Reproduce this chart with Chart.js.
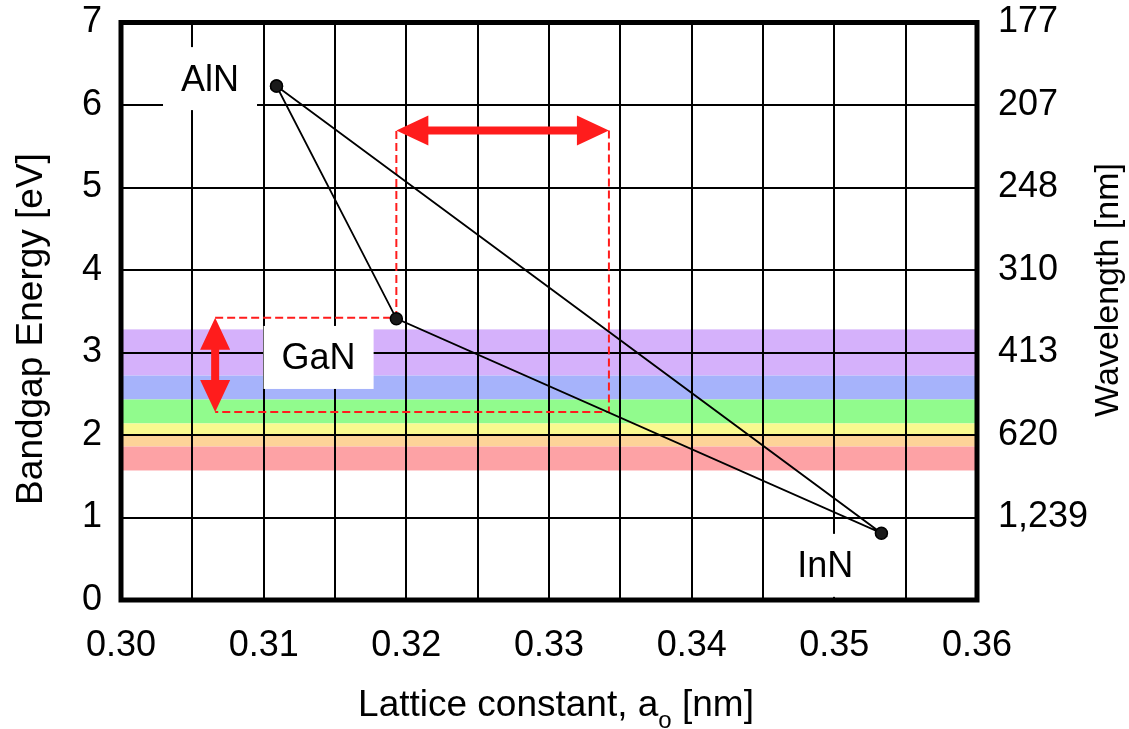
<!DOCTYPE html>
<html>
<head>
<meta charset="utf-8">
<script src="https://cdn.jsdelivr.net/npm/chart.js@4.4.1/dist/chart.umd.min.js"></script>
<style>
  html, body { margin: 0; padding: 0; background: #fff; }
  #wrap { width: 1129px; height: 729px; }
</style>
</head>
<body>
<div id="wrap"><canvas id="c" width="1129" height="729"></canvas></div>
<script>
// Binary nitrides: lattice constant a0 [nm] vs bandgap [eV]
const compounds  = ['AlN', 'GaN', 'InN'];
const latticeNm  = [0.3109, 0.3193, 0.3533];
const bandgapEv  = [6.23, 3.41, 0.81];

// Axis tick labels
const latticeTickLabels = ['0.30', '0.31', '0.32', '0.33', '0.34', '0.35', '0.36'];
const energyTickLabels  = ['0', '1', '2', '3', '4', '5', '6', '7'];
const wavelengthLabels  = ['', '1,239', '620', '413', '310', '248', '207', '177'];

// Visible spectrum bands (upper / lower photon energy, eV)
const bandTopEv    = [3.28, 2.72, 2.43, 2.14, 2.00, 1.86];
const bandBottomEv = [2.72, 2.43, 2.14, 2.00, 1.86, 1.57];
const bandColors   = ['#D5B1FB', '#A6B3FB', '#91FB8D', '#F9F98F', '#FDD398', '#FDA2A5'];

// Red dashed guide path (null = break)
const guideLattice = [0.3066, 0.3193, 0.3193, 0.3193, 0.3342, 0.3342, 0.3066];
const guideEnergy  = [3.42, 3.42, 5.69, null, 5.69, 2.28, 2.28];

// Double-headed arrows: start / end in data units
const arrowStartLattice = [0.3193, 0.3066];
const arrowStartEnergy  = [5.69, 3.42];
const arrowEndLattice   = [0.3342, 0.3066];
const arrowEndEnergy    = [5.69, 2.28];

// Compound name tags
const tagLattice = [0.30624, 0.31385, 0.34937];
const tagEnergy  = [6.32, 2.94, 0.42];

const FONT = "'Liberation Sans', Arial, sans-serif";
const RED = '#FF1C1C';

const trianglePts = [0, 1, 2, 0].map(i => ({ x: latticeNm[i], y: bandgapEv[i] }));
const guidePts = guideLattice.map((x, i) => ({ x: x, y: guideEnergy[i] }));

const bandsPlugin = {
  id: 'bands',
  beforeDraw(chart) {
    const { ctx, chartArea: a, scales } = chart;
    ctx.save();
    ctx.fillStyle = '#fff';
    ctx.fillRect(0, 0, chart.width, chart.height);
    bandTopEv.forEach((top, i) => {
      const y1 = scales.y.getPixelForValue(top);
      const y2 = scales.y.getPixelForValue(bandBottomEv[i]);
      ctx.fillStyle = bandColors[i];
      ctx.fillRect(a.left, y1, a.right - a.left, y2 - y1);
    });
    ctx.restore();
  }
};

const tagsPlugin = {
  id: 'tags',
  beforeDatasetsDraw(chart) {
    const { ctx, scales } = chart;
    ctx.save();
    ctx.font = '36px ' + FONT;
    ctx.textAlign = 'center';
    ctx.textBaseline = 'middle';
    compounds.forEach((name, i) => {
      const cx = scales.x.getPixelForValue(tagLattice[i]);
      const cy = scales.y.getPixelForValue(tagEnergy[i]);
      const w = ctx.measureText(name).width + 36;
      const h = 63;
      ctx.fillStyle = '#fff';
      ctx.fillRect(cx - w / 2, cy - h / 2, w, h);
      ctx.fillStyle = '#000';
      ctx.fillText(name, cx, cy + 2);
    });
    ctx.restore();
  }
};

function drawDoubleArrow(ctx, x1, y1, x2, y2) {
  const ang = Math.atan2(y2 - y1, x2 - x1);
  const len = Math.hypot(x2 - x1, y2 - y1);
  const headL = 32, headW = 15, shaft = 4;
  ctx.save();
  ctx.translate(x1, y1);
  ctx.rotate(ang);
  ctx.beginPath();
  ctx.moveTo(0, 0);
  ctx.lineTo(headL, -headW);
  ctx.lineTo(headL, -shaft);
  ctx.lineTo(len - headL, -shaft);
  ctx.lineTo(len - headL, -headW);
  ctx.lineTo(len, 0);
  ctx.lineTo(len - headL, headW);
  ctx.lineTo(len - headL, shaft);
  ctx.lineTo(headL, shaft);
  ctx.lineTo(headL, headW);
  ctx.closePath();
  ctx.fill();
  ctx.restore();
}

const overlayPlugin = {
  id: 'overlay',
  afterDatasetsDraw(chart) {
    const { ctx, chartArea: a, scales } = chart;
    ctx.save();
    ctx.fillStyle = RED;
    arrowStartLattice.forEach((xs, i) => {
      drawDoubleArrow(ctx,
        scales.x.getPixelForValue(xs), scales.y.getPixelForValue(arrowStartEnergy[i]),
        scales.x.getPixelForValue(arrowEndLattice[i]), scales.y.getPixelForValue(arrowEndEnergy[i]));
    });
    // plot frame
    ctx.strokeStyle = '#000';
    ctx.lineWidth = 5;
    ctx.strokeRect(a.left, a.top, a.right - a.left, a.bottom - a.top);
    ctx.restore();
  },
  afterDraw(chart) {
    const { ctx } = chart;
    ctx.save();
    ctx.fillStyle = '#000';
    ctx.textBaseline = 'alphabetic';

    // x title with subscript
    const main1 = 'Lattice constant, a', sub = 'o', main2 = ' [nm]';
    ctx.font = '37px ' + FONT;
    const w1 = ctx.measureText(main1).width, w3 = ctx.measureText(main2).width;
    ctx.font = '24px ' + FONT;
    const w2 = ctx.measureText(sub).width;
    const x = 556 - (w1 + w2 + w3) / 2;
    ctx.textAlign = 'left';
    ctx.font = '37px ' + FONT;
    ctx.fillText(main1, x, 716);
    ctx.font = '24px ' + FONT;
    ctx.fillText(sub, x + w1, 728);
    ctx.font = '37px ' + FONT;
    ctx.fillText(main2, x + w1 + w2, 716);

    // left title
    ctx.textAlign = 'center';
    ctx.save();
    ctx.translate(42, 329);
    ctx.rotate(-Math.PI / 2);
    ctx.font = '37px ' + FONT;
    ctx.fillText('Bandgap Energy [eV]', 0, 0);
    ctx.restore();

    // right title
    ctx.save();
    ctx.translate(1118, 290);
    ctx.rotate(-Math.PI / 2);
    ctx.font = '34px ' + FONT;
    ctx.fillText('Wavelength [nm]', 0, 0);
    ctx.restore();
    ctx.restore();
  }
};

new Chart(document.getElementById('c'), {
  type: 'scatter',
  data: {
    datasets: [
      {
        label: 'guide',
        data: guidePts,
        showLine: true,
        spanGaps: false,
        borderColor: RED,
        borderWidth: 2,
        borderDash: [8, 4],
        pointRadius: 0,
        order: 2
      },
      {
        label: 'nitrides',
        data: trianglePts,
        showLine: true,
        borderColor: '#000',
        borderWidth: 1.8,
        pointRadius: 6,
        pointBackgroundColor: '#1a1a1a',
        pointBorderColor: '#000',
        pointBorderWidth: 1.5,
        order: 1
      }
    ]
  },
  options: {
    responsive: false,
    animation: false,
    devicePixelRatio: 1,
    layout: { padding: { top: 22.5, left: 0, right: 0, bottom: 0 } },
    plugins: { legend: { display: false }, tooltip: { enabled: false } },
    scales: {
      x: {
        type: 'linear',
        min: 0.30, max: 0.36,
        afterFit: s => { s.height = 129; s.paddingLeft = 0; s.paddingRight = 0; },
        border: { display: false },
        grid: { color: '#000', lineWidth: 2, drawTicks: false },
        ticks: {
          stepSize: 0.005,
          autoSkip: false,
          maxRotation: 0,
          padding: 24,
          color: '#000',
          font: { family: FONT, size: 36 },
          callback: (v, i) => (i % 2 === 0 ? latticeTickLabels[i / 2] : '')
        }
      },
      y: {
        type: 'linear',
        position: 'left',
        min: 0, max: 7,
        afterFit: s => { s.width = 121; s.paddingTop = 0; s.paddingBottom = 0; },
        border: { display: false },
        grid: { color: '#000', lineWidth: 2, drawTicks: false },
        ticks: {
          stepSize: 1,
          padding: 19,
          color: '#000',
          font: { family: FONT, size: 36 },
          callback: v => energyTickLabels[v]
        }
      },
      y2: {
        type: 'linear',
        position: 'right',
        min: 0, max: 7,
        afterFit: s => { s.width = 152; s.paddingTop = 0; s.paddingBottom = 0; },
        border: { display: false },
        grid: { display: false, drawTicks: false },
        ticks: {
          stepSize: 1,
          padding: 21,
          color: '#000',
          font: { family: FONT, size: 36 },
          callback: v => wavelengthLabels[v]
        }
      }
    }
  },
  plugins: [bandsPlugin, tagsPlugin, overlayPlugin]
});
</script>
</body>
</html>
